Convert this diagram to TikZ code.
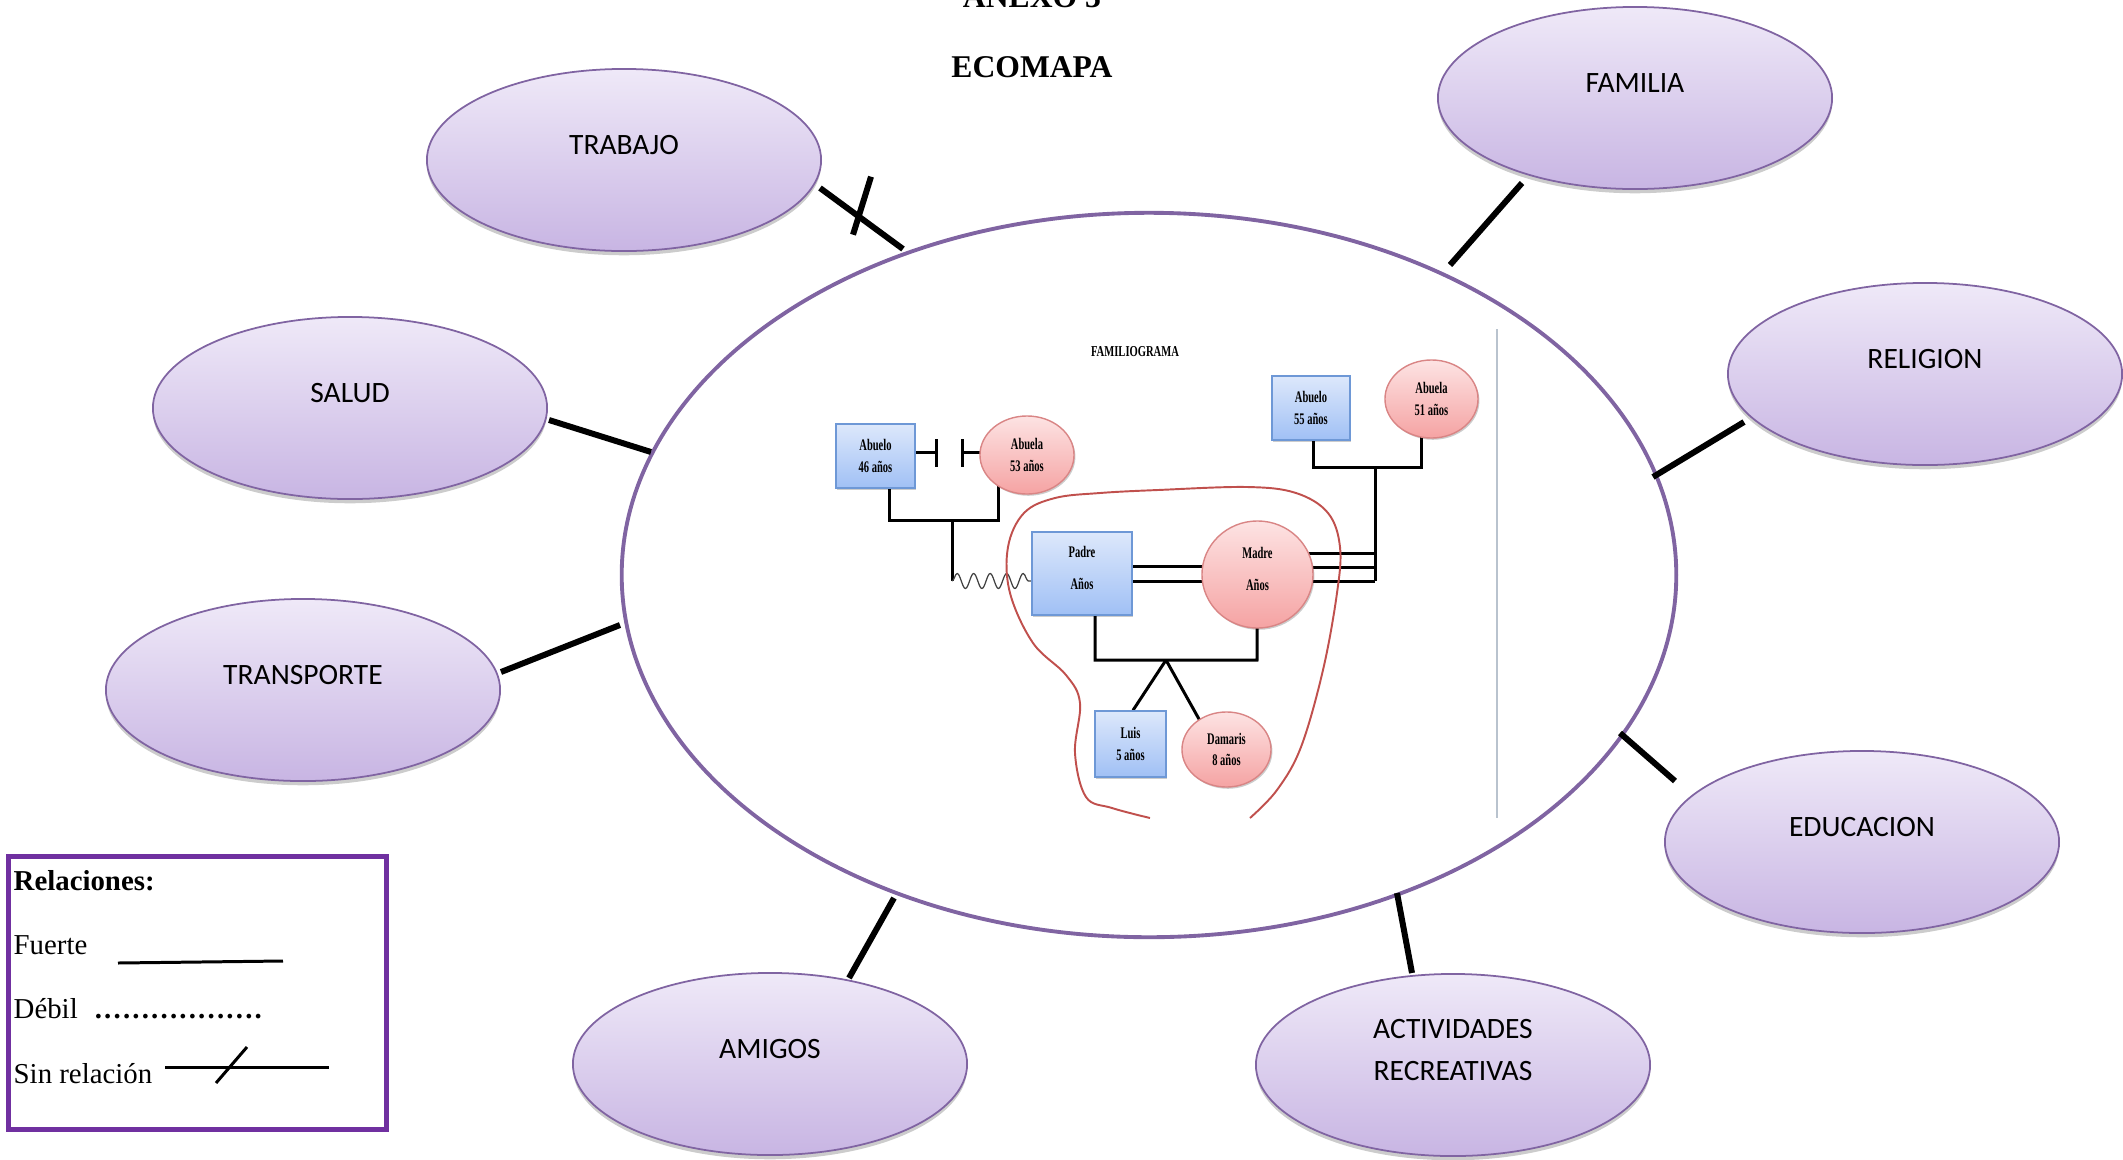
\documentclass[tikz,border=0pt]{standalone}
\usepackage{fontspec}
\setmainfont{Liberation Serif}
\newfontfamily\carlito{Carlito}
\usepackage{graphicx}
\usetikzlibrary{shapes.geometric,shadows,backgrounds,decorations.pathmorphing}
\definecolor{ecopurple}{HTML}{8064A2}
\definecolor{elltop}{HTML}{EFE9F8}
\definecolor{ellbot}{HTML}{C8B5E3}
\definecolor{boxtop}{HTML}{DDE8FB}
\definecolor{boxbot}{HTML}{A0C0F5}
\definecolor{boxedge}{HTML}{6E98D6}
\definecolor{pinktop}{HTML}{FDE3E3}
\definecolor{pinkbot}{HTML}{F5A3A3}
\definecolor{pinkedge}{HTML}{D98585}
\definecolor{houseline}{HTML}{C0504D}
\definecolor{legendpurple}{HTML}{7030A0}
\definecolor{divgray}{HTML}{B9C3CE}
\newcommand\narrowtxt[1]{\scalebox{0.65}[1]{#1}}
\newcommand\legdot{\makebox[0.094cm][c]{\textbf{.}}}
\begin{document}
\begin{tikzpicture}[x=0.01cm, y=-0.01cm,
  ecotext/.style={font=\carlito\fontsize{8.4}{12}\selectfont, align=center, yshift=0.15cm},
  eco/.style={ellipse, draw=ecopurple, line width=0.5pt, top color=elltop, bottom color=ellbot,
    minimum width=3.94cm, minimum height=1.82cm, inner sep=0pt,
    drop shadow={shadow xshift=0pt, shadow yshift=-1.2pt, opacity=0.2, fill=black},
    label={[ecotext]center:#1}},
  mainell/.style={ellipse, draw=ecopurple, line width=1.1pt, minimum width=10.54cm, minimum height=7.24cm, inner sep=0pt},
  ecolink/.style={line width=1.7pt, black},
  famfont/.style={font=\bfseries\fontsize{4.6}{6.2}\selectfont},
  fbox/.style={rectangle, draw=boxedge, line width=0.4pt, top color=boxtop, bottom color=boxbot, inner sep=0pt, align=center, famfont,
    drop shadow={shadow xshift=0.4pt, shadow yshift=-0.5pt, opacity=0.2, fill=black}},
  fcirc/.style={ellipse, draw=pinkedge, line width=0.4pt, top color=pinktop, bottom color=pinkbot, inner sep=0pt, align=center, famfont,
    drop shadow={shadow xshift=0.4pt, shadow yshift=-0.5pt, opacity=0.2, fill=black}},
  famline/.style={line width=0.85pt, black},
  wave/.style={line width=0.35pt, black!75, decorate, decoration={snake, amplitude=0.075cm, segment length=0.165cm}},
  legtext/.style={font=\fontsize{8.2}{10}\selectfont, anchor=base west, inner sep=0pt},
  titletext/.style={font=\bfseries\fontsize{9}{11}\selectfont, anchor=base}
]
\useasboundingbox (0,0) rectangle (2123,1160);

% titles
\node[titletext] (anexo) at (1032,7) {ANEXO 3};
\node[titletext] (ecomapa) at (1032,77) {ECOMAPA};

% central ellipse
\node[mainell] (ecomap) at (1149,575) {};

% systems
\node[eco=TRABAJO] (trabajo) at (624,160) {};
\node[eco=FAMILIA] (familia) at (1635,98) {};
\node[eco=RELIGION] (religion) at (1925,374) {};
\node[eco=EDUCACION] (educacion) at (1862,842) {};
\node[eco={ACTIVIDADES\\RECREATIVAS}] (actividades) at (1453,1065) {};
\node[eco=AMIGOS] (amigos) at (770,1064) {};
\node[eco=TRANSPORTE] (transporte) at (303,690) {};
\node[eco=SALUD] (salud) at (350,408) {};

% connector ends
\coordinate (trabajoA) at (820,188);   \coordinate (trabajoB) at (903,249);
\coordinate (familiaA) at (1522,183);  \coordinate (familiaB) at (1450,265);
\coordinate (religionA) at (1744,422); \coordinate (religionB) at (1653,477);
\coordinate (educA) at (1675,781);     \coordinate (educB) at (1620,733);
\coordinate (activA) at (1412,973);    \coordinate (activB) at (1397,893);
\coordinate (amigosA) at (849,978);    \coordinate (amigosB) at (894,898);
\coordinate (transA) at (501,672);     \coordinate (transB) at (620,625);
\coordinate (saludA) at (549,420);     \coordinate (saludB) at (651,452);

\draw[ecolink] (trabajoA) -- (trabajoB) coordinate[pos=0.47] (trabajoCut);
\draw[ecolink] (trabajoCut) ++(12,-40) -- ++(-18,58);
\draw[ecolink] (familiaA) -- (familiaB);
\draw[ecolink] (religionA) -- (religionB);
\draw[ecolink] (educA) -- (educB);
\draw[ecolink] (activA) -- (activB);
\draw[ecolink] (amigosA) -- (amigosB);
\draw[ecolink] (transA) -- (transB);
\draw[ecolink] (saludA) -- (saludB);

% familiograma
\node[font=\bfseries\fontsize{4.3}{5}\selectfont] (famtitle) at (1135,352) {\scalebox{0.7}[1]{FAMILIOGRAMA}};
\node[fbox, minimum width=0.79cm, minimum height=0.64cm] (abueloP) at (875.5,456) {\narrowtxt{Abuelo}\\\narrowtxt{46 años}};
\node[fcirc, minimum width=0.94cm, minimum height=0.78cm] (abuelaP) at (1027,455) {\narrowtxt{Abuela}\\\narrowtxt{53 años}};
\node[fbox, minimum width=1.00cm, minimum height=0.83cm] (padre) at (1082,573.5) {\narrowtxt{Padre}\\[0.1cm]\narrowtxt{Años}\\[-0.1cm]};
\node[fcirc, minimum width=1.11cm, minimum height=1.07cm] (madre) at (1257.5,574.5) {\narrowtxt{Madre}\\[0.1cm]\narrowtxt{Años}\\[-0.1cm]};
\node[fbox, minimum width=0.78cm, minimum height=0.64cm] (abueloM) at (1311,408) {\narrowtxt{Abuelo}\\\narrowtxt{55 años}};
\node[fcirc, minimum width=0.93cm, minimum height=0.78cm] (abuelaM) at (1431.5,399) {\narrowtxt{Abuela}\\\narrowtxt{51 años}};
\node[fbox, minimum width=0.71cm, minimum height=0.66cm] (luis) at (1130.5,744) {\narrowtxt{Luis}\\\narrowtxt{5 años}};
\node[fcirc, minimum width=0.89cm, minimum height=0.75cm] (damaris) at (1226.5,749.5) {\narrowtxt{Damaris}\\\narrowtxt{8 años}};

\begin{scope}[on background layer]
  % separated grandparents
  \draw[famline] (abueloP.east |- 0,452) -- (936,452) (936,439) -- (936,467)
                 (962,439) -- (962,467) (962,452) -- (abuelaP.center |- 0,452);
  \draw[famline] (abueloP.center -| 889,0) -- (889,520) -- (998,520) -- (abuelaP.center -| 998,0);
  \draw[famline] (952,520) -- (952,581);
  \draw[wave] (952,581) -- (padre.west |- 0,581);
  % parents
  \draw[famline] (padre.center |- 0,566) -- (madre.center |- 0,566)
                 (padre.center |- 0,581) -- (madre.center |- 0,581);
  \draw[famline] (madre.center |- 0,553) -- (1375,553)
                 (madre.center |- 0,567) -- (1375,567)
                 (madre.center |- 0,581) -- (1375,581);
  \draw[famline] (1375,581) -- (1375,467);
  \draw[famline] (abueloM.center -| 1313,0) -- (1313,467) -- (1421,467) -- (abuelaM.center -| 1421,0);
  % children
  \draw[famline] (padre.center -| 1095,0) -- (1095,660) -- (1257,660) -- (madre.center);
  \draw[famline] (1166,660) -- (luis.north -| 1133,0);
  \draw[famline] (1166,660) -- (damaris.center -| 1216,0);
\end{scope}

% household outline
\draw[houseline, line width=0.55pt] plot[smooth, tension=0.6] coordinates {(1150,818) (1112,808) (1086,797) (1075,753) (1080,703) (1066,675) (1033,643) (1010,593) (1008,547) (1024,513) (1055,498) (1100,493) (1158,490) (1247,487) (1296,493) (1328,513) (1340,547) (1337,593) (1323,670) (1301,747) (1277,790) (1250,818)};

% divider
\draw[divgray, line width=0.5pt] (1497,329) -- (1497,818);

% legend
\node[draw=legendpurple, line width=1.4pt, minimum width=3.77cm, minimum height=2.72cm, inner sep=0pt] (legend) at (197.5,993) {};
\node[legtext, font=\bfseries\fontsize{8.2}{10}\selectfont] (relaciones) at (13,890) {Relaciones:};
\node[legtext] (fuerte) at (13,954) {Fuerte};
\draw[line width=0.85pt] (118,963) -- (283,961);
\node[legtext] (debil) at (13,1018) {Débil};
\node[legtext] (debildots) at (93,1018) {\legdot\legdot\legdot\legdot\legdot\legdot\legdot\legdot\legdot\legdot\legdot\legdot\legdot\legdot\legdot\legdot\legdot\legdot};
\node[legtext] (sinrel) at (13,1083) {Sin relación};
\draw[line width=0.85pt] (165,1067) -- (329,1067);
\draw[line width=0.85pt] (247,1047) -- (216,1083);
\end{tikzpicture}
\end{document}
